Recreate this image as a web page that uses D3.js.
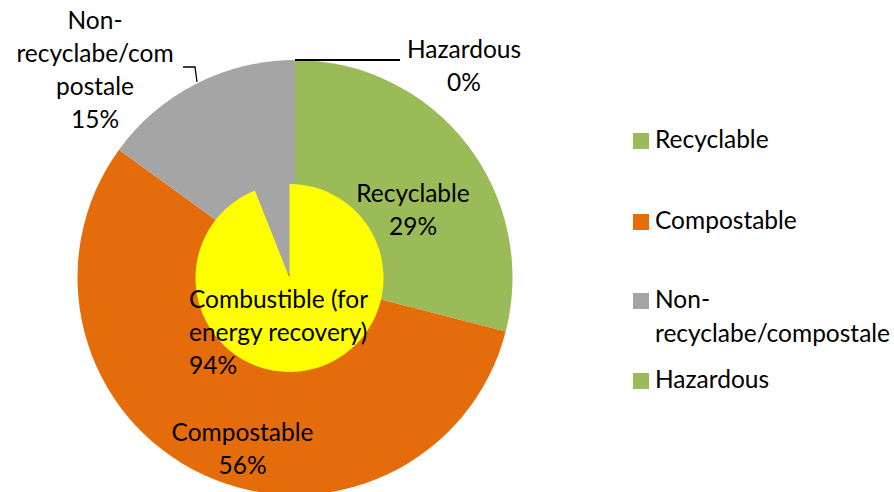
<!DOCTYPE html>
<html>
<head>
<meta charset="utf-8">
<script src="https://cdn.jsdelivr.net/npm/d3@7"></script>
<style>
  html, body { margin: 0; padding: 0; background: #fff; }
  svg { display: block; }
  text { font-family: Lato, "Open Sans", sans-serif; fill: #000; }
</style>
</head>
<body>
<svg id="chart" width="894" height="492"></svg>
<script>
// Waste stream composition (outer ring) and combustible share (inner disc)
const categories = ["Recyclable", "Compostable", "Non-recyclabe/compostale", "Hazardous"];
const values = [29, 56, 15, 0];
const colors = ["#9BBB59", "#E46C0A", "#A5A5A5", "#9BBB59"];

const innerCategories = ["Combustible (for energy recovery)", "Other"];
const innerValues = [94, 6];
const innerColors = ["#FFFF00", "none"];

// Wrapped text used for the data labels on the slices
const outerLabelLines = [
  ["Recyclable"],
  ["Compostable"],
  ["Non-", "recyclabe/com", "postale"],
  ["Hazardous"]
];
const innerLabelLines = [["Combustible (for", "energy recovery)"], []];

// Wrapped text used in the legend
const legendLines = [
  ["Recyclable"],
  ["Compostable"],
  ["Non-", "recyclabe/compostale"],
  ["Hazardous"]
];

const layout = {
  outer: { cx: 295, cy: 277.5, r: 217.5 },
  inner: { cx: 289.5, cy: 278, r: 94 },
  fontSize: 24.5,
  lineHeight: 33,
  // label anchor: x, first baseline, text-anchor
  outerLabels: [
    { x: 413, y: 202, anchor: "middle" },
    { x: 242.5, y: 441, anchor: "middle" },
    { x: 95, y: 29, anchor: "middle" },
    { x: 464, y: 58, anchor: "middle" }
  ],
  innerLabels: [{ x: 189, y: 308, anchor: "start" }],
  legend: { x: 633, textX: 655, box: 16, baselines: [148, 229, 308, 388] }
};

const svg = d3.select("#chart");

const pie = d3.pie().sort(null).value(d => d).startAngle(0).endAngle(2 * Math.PI);

// Outer ring
const outerArcs = pie(values);
const outerArc = d3.arc().innerRadius(0).outerRadius(layout.outer.r);
const gOuter = svg.append("g").attr("transform", `translate(${layout.outer.cx},${layout.outer.cy})`);
gOuter.selectAll("path")
  .data(outerArcs)
  .join("path")
  .attr("d", outerArc)
  .attr("fill", (d, i) => colors[i]);

// Inner disc
const innerArcs = pie(innerValues);
const innerArc = d3.arc().innerRadius(0).outerRadius(layout.inner.r);
const gInner = svg.append("g").attr("transform", `translate(${layout.inner.cx},${layout.inner.cy})`);
gInner.selectAll("path")
  .data(innerArcs)
  .join("path")
  .attr("d", innerArc)
  .attr("fill", (d, i) => innerColors[i]);

// Leader lines for the labels placed outside the ring
const line = d3.line();
svg.append("path")
  .attr("d", line([[183, 67], [195, 67], [197, 82]]))
  .attr("fill", "none").attr("stroke", "#000").attr("stroke-width", 1.3);
svg.append("path")
  .attr("d", line([[layout.outer.cx, 60], [400, 60]]))
  .attr("fill", "none").attr("stroke", "#000").attr("stroke-width", 2);

function drawLabel(lines, pos) {
  const t = svg.append("text")
    .attr("font-size", layout.fontSize)
    .attr("text-anchor", pos.anchor);
  lines.forEach((s, k) => {
    t.append("tspan").attr("x", pos.x).attr("y", pos.y + k * layout.lineHeight).text(s);
  });
}

const total = d3.sum(values);
outerArcs.forEach((a, i) => {
  const pct = Math.round(a.data / total * 100) + "%";
  drawLabel(outerLabelLines[i].concat([pct]), layout.outerLabels[i]);
});

const innerTotal = d3.sum(innerValues);
drawLabel(innerLabelLines[0].concat([Math.round(innerValues[0] / innerTotal * 100) + "%"]), layout.innerLabels[0]);

// Legend
const lg = layout.legend;
categories.forEach((c, i) => {
  const firstBase = lg.baselines[i];
  svg.append("rect")
    .attr("x", lg.x).attr("y", firstBase - 15)
    .attr("width", lg.box).attr("height", lg.box)
    .attr("fill", colors[i]);
  const t = svg.append("text").attr("font-size", layout.fontSize);
  legendLines[i].forEach((s, k) => {
    t.append("tspan").attr("x", lg.textX).attr("y", firstBase + k * 34).text(s);
  });
});
</script>
</body>
</html>
